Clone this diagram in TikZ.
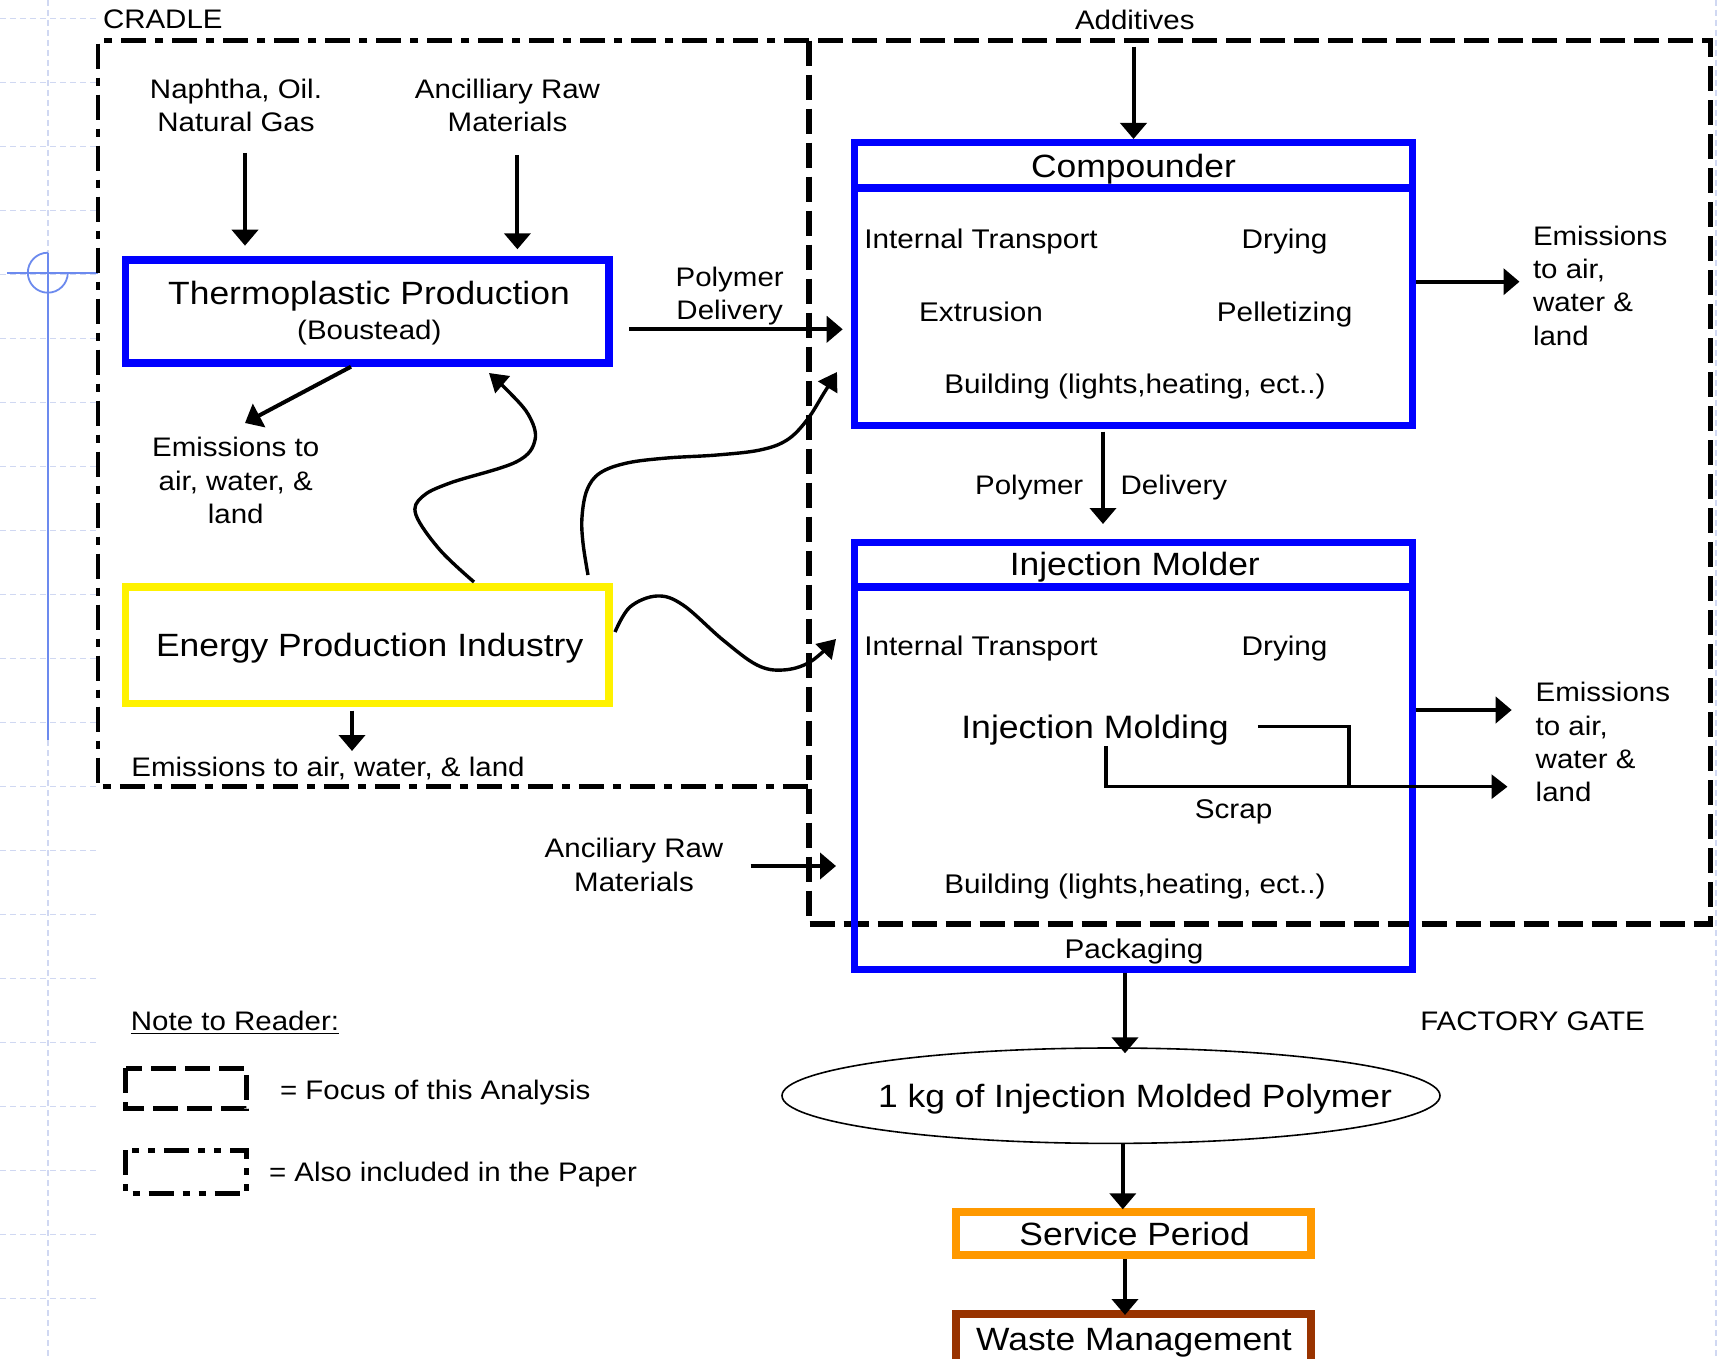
\documentclass[tikz,border=0pt]{standalone}
\usepackage{fontspec}
\setmainfont[FakeStretch=1.1]{Liberation Sans}
\usetikzlibrary{arrows.meta,shapes.geometric}

\definecolor{boxblue}{RGB}{0,0,255}
\definecolor{energyyellow}{RGB}{255,242,0}
\definecolor{serviceorange}{RGB}{255,153,0}
\definecolor{wastebrown}{RGB}{153,51,0}
\definecolor{gridline}{RGB}{208,216,242}
\definecolor{markblue}{RGB}{108,138,238}

\newcommand\txtnorm{\fontsize{13.4}{16.67}\selectfont}
\newcommand\txtin{\fontsize{13.5}{16.67}\selectfont}
\newcommand\txtbig{\fontsize{16.1}{19}\selectfont}
\newcommand\txtmold{\fontsize{16.2}{19}\selectfont}
\newcommand\stackc[1]{\begin{tabular}[t]{@{}c@{}}#1\end{tabular}}
\newcommand\stackl[1]{\begin{tabular}[t]{@{}l@{}}#1\end{tabular}}

\tikzset{
  arr/.style={line width=2pt,-{Triangle[length=8pt,width=13pt]}},
  wavy/.style={line width=1.7pt,line join=round,-{Triangle[length=9pt,width=11pt]}},
  scrapline/.style={line width=1.6pt},
  txt/.style={inner sep=0pt,outer sep=0pt,anchor=base,font=\txtnorm},
  txtl/.style={txt,anchor=base west},
  txtr/.style={txt,anchor=base east},
  procbox/.style={draw=boxblue,line width=3.5pt,inner sep=0pt},
  srcbox/.style={line width=3.75pt,inner sep=0pt},
  endbox/.style={line width=4pt,inner sep=0pt},
  focusline/.style={line width=2.8pt,dash pattern=on 12.5pt off 4.5pt},
  cradleline/.style={line width=2.4pt,dash pattern=on 12.5pt off 4.5pt on 4pt off 4.5pt},
  alsoline/.style={line width=2.5pt,dash pattern=on 12.5pt off 4.5pt on 3.5pt off 4.5pt on 3.5pt off 4.5pt},
  gridl/.style={gridline,line width=0.6pt,dash pattern=on 3pt off 2pt},
  markl/.style={markblue,line width=0.9pt},
}

\begin{document}
\begin{tikzpicture}[x=0.5pt,y=-0.5pt]
\useasboundingbox (0,0) rectangle (1719,1359);
\clip (0,0) rectangle (1719,1359);
\fill[white] (0,0) rectangle (1719,1359);

% page grid in the margins
\foreach \k in {0,...,21} \draw[gridl] (0,{18.3+64*\k}) -- (97,{18.3+64*\k});
\draw[gridl] (48,0) -- (48,1359);
\draw[gridl] (1716,0) -- (1716,1359);

% blue margin marker
\draw[markl] (7,272.7) -- (97.6,272.7);
\draw[markl] (47.8,252.7) -- (47.8,740);
\draw[markl] (47.8,252.7) arc[start angle=270,end angle=0,radius=20];

% system boundaries
\draw[cradleline] (809,40.6) -- (98,40.6) -- (98,786.7) -- (809,786.7);
\draw[focusline] (809,40.6) rectangle (1710.5,924);
\node[txtl] (cradle) at (103,28.3) {CRADLE};
\node[txt] (additives) at (1134.8,29.3) {Additives};

% ---------------- Compounder ----------------
\node[procbox,minimum width=279pt,minimum height=141.5pt] (comp) at (1133.5,284) {};
\draw[boxblue,line width=4pt] (851,187.5) -- (1416,187.5);
\node[txt,font=\txtbig] (compT) at (1133.5,177) {Compounder};
\node[txt,font=\txtin] (cIT) at (981,249) {Internal Transport};
\node[txt,font=\txtin] (cDr) at (1284.6,249) {Drying};
\node[txt,font=\txtin] (cEx) at (981,321.7) {Extrusion};
\node[txt,font=\txtin] (cPe) at (1284.6,321.7) {Pelletizing};
\node[txt,font=\txtin] (cBu) at (1135,393) {Building (lights,heating, ect..)};
\coordinate (addS) at (1133.5,46.7);
\draw[arr] (addS) -- (comp.north);
\coordinate (cEmE) at (1519.5,281.7);
\draw[arr] (comp.east |- cEmE) -- (cEmE);
\node[txtl] (cEm) at (1533,245) {\stackl{Emissions\\to air,\\water \&\\land}};

% polymer delivery between the two plants
\coordinate (pdS) at (1103,431.7);
\coordinate (pdE) at (1103,524);
\draw[arr] (pdS) -- (pdE);
\node[txtr] (pdL) at (1083.3,494) {Polymer};
\node[txtl] (pdR) at (1120.7,494) {Delivery};

% ---------------- Injection Molder ----------------
\node[procbox,minimum width=279pt,minimum height=213.5pt] (inj) at (1133.5,755.5) {};
\draw[boxblue,line width=4pt] (851,586.7) -- (1416,586.7);
\node[txt,font=\txtbig] (injT) at (1134.8,575) {Injection Molder};
\node[txt,font=\txtin] (iIT) at (981,655) {Internal Transport};
\node[txt,font=\txtin] (iDr) at (1284.6,655) {Drying};
\node[txt,font=\txtmold] (iIM) at (1095,738) {Injection Molding};
\node[txt,font=\txtin] (iSc) at (1233.6,818) {Scrap};
\node[txt,font=\txtin] (iBu) at (1135,893) {Building (lights,heating, ect..)};
\node[txt,font=\txtin] (iPa) at (1134,958) {Packaging};
\coordinate (scA) at (1257.8,726.7);
\coordinate (scB) at (1348.9,726.7);
\coordinate (scC) at (1348.9,786.7);
\draw[scrapline] (scA) -- (scB) -- (scC);
\coordinate (scD) at (1106,746);
\coordinate (scE) at (1507.5,786.7);
\draw[scrapline,-{Triangle[length=8pt,width=12pt]}] (scD) |- (scE);
\coordinate (iEmE) at (1511.7,710);
\draw[arr] (inj.east |- iEmE) -- (iEmE);
\node[txtl] (iEm) at (1535.7,701.7) {\stackl{Emissions\\to air,\\water \&\\land}};

% ---------------- Thermoplastic production ----------------
\node[srcbox,draw=boxblue,minimum width=241.75pt,minimum height=51.5pt] (thermo) at (367.25,311.5) {};
\node[txt,font=\txtbig] (thT) at (369,304) {Thermoplastic Production};
\node[txt] (thB) at (369.3,339.3) {(Boustead)};
\node[txt] (naph) at (236,98.3) {\stackc{Naphtha, Oil.\\Natural Gas}};
\coordinate (naS) at (245,153);
\coordinate (naE) at (245,245.7);
\draw[arr] (naS) -- (naE);
\node[txt] (anc1) at (507.5,98.3) {\stackc{Ancilliary Raw\\Materials}};
\coordinate (a1S) at (517.4,155);
\coordinate (a1E) at (517.4,249.3);
\draw[arr] (a1S) -- (a1E);
\node[txt] (pd1) at (729.7,286) {\stackc{Polymer\\Delivery}};
\coordinate (p1S) at (629,329.3);
\coordinate (p1E) at (842.7,329.3);
\draw[arr] (p1S) -- (p1E);
\coordinate (thS) at (351,366.7);
\coordinate (thE) at (245,423);
\draw[arr] (thS) -- (thE);
\node[txt] (thEm) at (235.7,456.7) {\stackc{Emissions to\\air, water, \&\\land}};

% ---------------- Energy production ----------------
\node[srcbox,draw=energyyellow,minimum width=241.75pt,minimum height=58.25pt] (energy) at (367.25,645.25) {};
\node[txt,font=\txtbig] (enT) at (369.7,656) {Energy Production Industry};
\coordinate (enS) at (352,710.7);
\coordinate (enE) at (352,751);
\draw[arr] (enS) -- (enE);
\node[txt] (enEm) at (328,776.7) {Emissions to air, water, \& land};

% energy supply lines
\draw[wavy] plot[smooth,tension=0.6] coordinates {(474,582) (440,550) (416,515) (422,497) (450,483) (516,462) (535,440) (528,414) (505,388) (489,373)};
\draw[wavy] plot[smooth,tension=0.6] coordinates {(588,575) (583,543) (582,517) (587,490) (600,473) (627,463) (667,458) (717,455) (760,450) (787,440) (807,420) (824,393) (837,372)};
\draw[wavy] plot[smooth,tension=0.6] coordinates {(615,632) (630,607) (657,596) (683,605) (723,640) (757,665) (783,670) (810,662) (836,639)};

% ancillary input to the molder
\node[txt] (anc2) at (634,857.7) {\stackc{Anciliary Raw\\Materials}};
\coordinate (a2S) at (750.7,866);
\coordinate (a2E) at (836,866);
\draw[arr] (a2S) -- (a2E);

% ---------------- legend ----------------
\node[txt] (note) at (235,1030) {\underline{Note to Reader:}};
\draw[focusline,line width=2.5pt] (125.5,1068) rectangle (246,1108.5);
\node[txtl] (leg1) at (280,1099) {= Focus of this Analysis};
\draw[alsoline] (125.5,1150) rectangle (246,1193);
\node[txtl] (leg2) at (269,1181.7) {= Also included in the Paper};
\node[txt] (gate) at (1532.5,1030) {FACTORY GATE};

% ---------------- product and life cycle ----------------
\node[draw,ellipse,line width=0.8pt,inner sep=0pt,minimum width=329pt,minimum height=47.7pt] (unit) at (1111,1095.7) {};
\node[txt,font=\txtbig] (unitT) at (1135,1107.3) {1 kg of Injection Molded Polymer};
\coordinate (u1S) at (1125,972.7);
\coordinate (u1E) at (1125,1053.3);
\draw[arr] (u1S) -- (u1E);
\node[endbox,draw=serviceorange,minimum width=177.25pt,minimum height=21.5pt] (service) at (1133.25,1233.5) {};
\node[txt,font=\txtbig] (servT) at (1134.6,1245) {Service Period};
\coordinate (u2S) at (1122.8,1143.3);
\coordinate (u2E) at (1122.8,1209.3);
\draw[arr] (u2S) -- (u2E);
\node[endbox,draw=wastebrown,minimum width=177.25pt,minimum height=43pt] (waste) at (1133.25,1357) {};
\node[txt,font=\txtbig] (wasteT) at (1134,1350) {Waste Management};
\coordinate (u3S) at (1125,1259);
\coordinate (u3E) at (1125,1315);
\draw[arr] (u3S) -- (u3E);
\end{tikzpicture}
\end{document}
